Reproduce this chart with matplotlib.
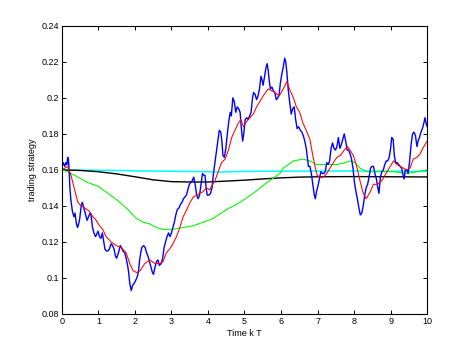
import matplotlib
matplotlib.use('Agg')
import matplotlib.pyplot as plt
import numpy as np

# blue: raw signal
blue_t = [0.00, 0.04, 0.08, 0.11, 0.14, 0.16, 0.18, 0.20, 0.22, 0.25, 0.29, 0.33, 0.36, 0.40, 0.43, 0.46,
          0.49, 0.53, 0.56, 0.60, 0.64, 0.69, 0.73, 0.77, 0.80, 0.84, 0.88, 0.92, 0.95, 0.99, 1.03, 1.07,
          1.11, 1.14, 1.18, 1.22, 1.26, 1.30, 1.35, 1.39, 1.43, 1.47, 1.50, 1.55, 1.60, 1.63, 1.67, 1.72,
          1.76, 1.80, 1.83, 1.86, 1.90, 1.94, 1.98, 2.03, 2.07, 2.10, 2.13, 2.16, 2.19, 2.24, 2.28, 2.32,
          2.36, 2.40, 2.44, 2.48, 2.51, 2.55, 2.59, 2.63, 2.67, 2.72, 2.76, 2.80, 2.84, 2.88, 2.92, 2.96,
          3.00, 3.04, 3.08, 3.12, 3.16, 3.21, 3.25, 3.29, 3.33, 3.37, 3.41, 3.45, 3.49, 3.53, 3.57, 3.61,
          3.65, 3.69, 3.73, 3.77, 3.81, 3.85, 3.89, 3.92, 3.95, 3.98, 4.03, 4.07, 4.11, 4.15, 4.19, 4.23,
          4.27, 4.31, 4.35, 4.38, 4.41, 4.45, 4.49, 4.53, 4.57, 4.61, 4.64, 4.68, 4.72, 4.76, 4.80, 4.84,
          4.88, 4.91, 4.95, 4.98, 5.02, 5.06, 5.10, 5.14, 5.18, 5.22, 5.25, 5.29, 5.33, 5.37, 5.41, 5.45,
          5.48, 5.51, 5.55, 5.59, 5.62, 5.65, 5.68, 5.71, 5.75, 5.79, 5.83, 5.87, 5.91, 5.95, 5.98, 6.02,
          6.06, 6.10, 6.13, 6.16, 6.20, 6.24, 6.28, 6.32, 6.36, 6.40, 6.44, 6.48, 6.53, 6.57, 6.61, 6.65,
          6.69, 6.72, 6.75, 6.79, 6.83, 6.87, 6.91, 6.94, 6.97, 7.01, 7.05, 7.09, 7.13, 7.17, 7.21, 7.25,
          7.29, 7.33, 7.37, 7.41, 7.45, 7.49, 7.53, 7.57, 7.61, 7.65, 7.69, 7.73, 7.77, 7.81, 7.85, 7.89,
          7.93, 7.97, 8.01, 8.05, 8.09, 8.13, 8.17, 8.21, 8.25, 8.29, 8.33, 8.37, 8.41, 8.45, 8.49, 8.53,
          8.57, 8.61, 8.65, 8.68, 8.72, 8.76, 8.80, 8.84, 8.88, 8.92, 8.96, 9.00, 9.03, 9.07, 9.10, 9.14,
          9.18, 9.22, 9.26, 9.30, 9.34, 9.37, 9.40, 9.44, 9.48, 9.52, 9.56, 9.60, 9.64, 9.68, 9.72, 9.75,
          9.79, 9.83, 9.87, 9.91, 9.94, 9.97, 10.00]
blue_v = [0.161, 0.164, 0.162, 0.164, 0.163, 0.167, 0.166, 0.160, 0.150, 0.143, 0.137, 0.134, 0.136, 0.130, 0.128, 0.130,
          0.133, 0.140, 0.142, 0.139, 0.136, 0.132, 0.134, 0.136, 0.135, 0.128, 0.125, 0.123, 0.124, 0.126, 0.123, 0.122,
          0.125, 0.121, 0.116, 0.115, 0.115, 0.116, 0.119, 0.118, 0.116, 0.112, 0.111, 0.114, 0.118, 0.117, 0.115, 0.114,
          0.111, 0.107, 0.103, 0.097, 0.093, 0.096, 0.097, 0.099, 0.101, 0.104, 0.110, 0.114, 0.117, 0.118, 0.117, 0.114,
          0.112, 0.109, 0.106, 0.103, 0.102, 0.106, 0.109, 0.110, 0.107, 0.108, 0.111, 0.117, 0.120, 0.123, 0.125, 0.123,
          0.125, 0.128, 0.131, 0.135, 0.138, 0.139, 0.141, 0.142, 0.144, 0.145, 0.146, 0.149, 0.152, 0.153, 0.154, 0.156,
          0.152, 0.146, 0.144, 0.146, 0.152, 0.158, 0.157, 0.157, 0.150, 0.146, 0.146, 0.147, 0.150, 0.158, 0.164, 0.170,
          0.176, 0.182, 0.181, 0.176, 0.168, 0.167, 0.172, 0.180, 0.187, 0.192, 0.190, 0.200, 0.198, 0.192, 0.195, 0.194,
          0.192, 0.184, 0.176, 0.180, 0.188, 0.189, 0.188, 0.190, 0.192, 0.200, 0.203, 0.202, 0.199, 0.201, 0.205, 0.212,
          0.210, 0.207, 0.212, 0.217, 0.219, 0.215, 0.209, 0.205, 0.206, 0.204, 0.203, 0.199, 0.200, 0.202, 0.208, 0.213,
          0.217, 0.222, 0.220, 0.214, 0.204, 0.197, 0.191, 0.194, 0.195, 0.188, 0.183, 0.184, 0.182, 0.181, 0.179, 0.176,
          0.172, 0.167, 0.162, 0.162, 0.158, 0.152, 0.146, 0.144, 0.148, 0.151, 0.155, 0.159, 0.158, 0.158, 0.159, 0.164,
          0.163, 0.165, 0.172, 0.175, 0.172, 0.171, 0.173, 0.178, 0.172, 0.174, 0.177, 0.180, 0.176, 0.171, 0.171, 0.169,
          0.166, 0.161, 0.153, 0.148, 0.144, 0.139, 0.135, 0.136, 0.140, 0.146, 0.150, 0.152, 0.156, 0.161, 0.162, 0.162,
          0.158, 0.155, 0.150, 0.147, 0.156, 0.159, 0.160, 0.163, 0.165, 0.165, 0.167, 0.172, 0.178, 0.177, 0.168, 0.164,
          0.164, 0.163, 0.162, 0.161, 0.157, 0.155, 0.160, 0.160, 0.158, 0.165, 0.174, 0.180, 0.181, 0.179, 0.173, 0.176,
          0.178, 0.181, 0.183, 0.186, 0.189, 0.186, 0.184]

# red: smoothed estimate
red_t = [0.00, 0.08, 0.16, 0.25, 0.35, 0.44, 0.53, 0.62, 0.76, 0.85, 0.94, 1.03, 1.12, 1.21, 1.35, 1.49,
         1.62, 1.76, 1.86, 1.95, 2.05, 2.14, 2.27, 2.41, 2.55, 2.68, 2.77, 2.86, 2.95, 3.04, 3.14, 3.23,
         3.32, 3.42, 3.51, 3.60, 3.69, 3.78, 3.87, 3.95, 4.05, 4.10, 4.19, 4.28, 4.37, 4.47, 4.56, 4.65,
         4.74, 4.83, 4.90, 4.97, 5.06, 5.15, 5.24, 5.33, 5.42, 5.51, 5.61, 5.65, 5.74, 5.84, 5.95, 6.06,
         6.16, 6.25, 6.34, 6.42, 6.51, 6.60, 6.69, 6.79, 6.86, 6.93, 6.99, 7.07, 7.16, 7.25, 7.34, 7.43,
         7.53, 7.62, 7.73, 7.82, 7.89, 7.98, 8.07, 8.16, 8.25, 8.33, 8.42, 8.53, 8.64, 8.76, 8.90, 8.99,
         9.08, 9.17, 9.26, 9.35, 9.44, 9.53, 9.62, 9.72, 9.81, 9.88, 9.97, 10.00]
red_v = [0.160, 0.161, 0.162, 0.157, 0.149, 0.142, 0.140, 0.139, 0.137, 0.134, 0.132, 0.129, 0.127, 0.123, 0.120, 0.118,
         0.117, 0.114, 0.108, 0.104, 0.103, 0.104, 0.108, 0.110, 0.108, 0.108, 0.109, 0.114, 0.116, 0.119, 0.123, 0.128,
         0.134, 0.138, 0.142, 0.145, 0.146, 0.147, 0.148, 0.150, 0.149, 0.151, 0.154, 0.159, 0.164, 0.166, 0.171, 0.178,
         0.182, 0.186, 0.188, 0.184, 0.187, 0.189, 0.191, 0.195, 0.198, 0.201, 0.204, 0.205, 0.204, 0.203, 0.201, 0.205,
         0.209, 0.204, 0.200, 0.195, 0.192, 0.186, 0.182, 0.177, 0.169, 0.162, 0.157, 0.156, 0.156, 0.158, 0.161, 0.164,
         0.167, 0.168, 0.171, 0.173, 0.171, 0.168, 0.162, 0.154, 0.147, 0.144, 0.147, 0.152, 0.152, 0.154, 0.159, 0.162,
         0.165, 0.163, 0.162, 0.161, 0.160, 0.161, 0.166, 0.167, 0.169, 0.172, 0.175, 0.176]

# green
green_t = [0.00, 0.16, 0.44, 0.71, 0.99, 1.26, 1.53, 1.81, 2.04, 2.23, 2.41, 2.59, 2.77, 3.04, 3.32, 3.60,
           3.87, 4.14, 4.51, 4.88, 5.24, 5.61, 5.97, 6.06, 6.34, 6.60, 6.79, 6.97, 7.25, 7.53, 7.75, 7.89,
           8.03, 8.16, 8.35, 8.71, 9.08, 9.44, 9.72, 10.00]
green_v = [0.160, 0.159, 0.156, 0.153, 0.151, 0.147, 0.143, 0.138, 0.133, 0.131, 0.130, 0.128, 0.127, 0.127, 0.128, 0.129,
           0.131, 0.133, 0.138, 0.142, 0.147, 0.153, 0.158, 0.161, 0.165, 0.166, 0.165, 0.163, 0.163, 0.163, 0.164, 0.165,
           0.164, 0.161, 0.159, 0.159, 0.159, 0.158, 0.159, 0.160]

# black
black_t = [0.0, 0.5, 1.0, 1.5, 2.0, 2.5, 3.0, 3.5, 4.0, 4.5, 5.0, 5.5, 6.0, 6.5, 7.0, 8.0, 9.0, 10.0]
black_v = [0.1600, 0.1597, 0.1590, 0.1578, 0.1562, 0.1545, 0.1535, 0.1533, 0.1533, 0.1538, 0.1543, 0.1550,
           0.1556, 0.1560, 0.1562, 0.1563, 0.1562, 0.1561]

# cyan
cyan_t = [0.0, 1.0, 1.9, 2.0, 3.0, 4.0, 4.3, 5.0, 6.0, 7.0, 8.0, 9.0, 10.0]
cyan_v = [0.1600, 0.1598, 0.1596, 0.1594, 0.1593, 0.1590, 0.1588, 0.1592, 0.1593, 0.1594, 0.1594, 0.1593, 0.1592]

xticks = list(range(0, 11))
yticks = [0.08, 0.10, 0.12, 0.14, 0.16, 0.18, 0.20, 0.22, 0.24]
ytick_labels = ['0.08', '0.1', '0.12', '0.14', '0.16', '0.18', '0.2', '0.22', '0.24']

plt.rcParams['font.family'] = ['Liberation Sans', 'DejaVu Sans']

fig = plt.figure(figsize=(4.72, 3.54), dpi=100)
ax = fig.add_axes([0.131, 0.113, 0.774, 0.814])

ax.plot(cyan_t, cyan_v, color=(0, 1, 1), linewidth=1.1)
ax.plot(black_t, black_v, color='black', linewidth=1.0)
ax.plot(green_t, green_v, color=(0, 0.95, 0), linewidth=0.75)
ax.plot(blue_t, blue_v, color=(0, 0, 1), linewidth=1.0)
ax.plot(red_t, red_v, color=(1, 0, 0), linewidth=0.75)

ax.set_xlim(0, 10)
ax.set_ylim(0.08, 0.24)
ax.set_xticks(xticks)
ax.set_xticklabels([str(t) for t in xticks])
ax.set_yticks(yticks)
ax.set_yticklabels(ytick_labels)
ax.tick_params(direction='in', length=3, width=0.7, labelsize=6.5, top=True, right=True, pad=2)
for s in ax.spines.values():
    s.set_linewidth(0.8)

ax.set_xlabel('Time k T', fontsize=6.5, labelpad=2)
ax.set_ylabel('trading strategy', fontsize=6.5, labelpad=3)

fig.savefig('out.png', dpi=100)
